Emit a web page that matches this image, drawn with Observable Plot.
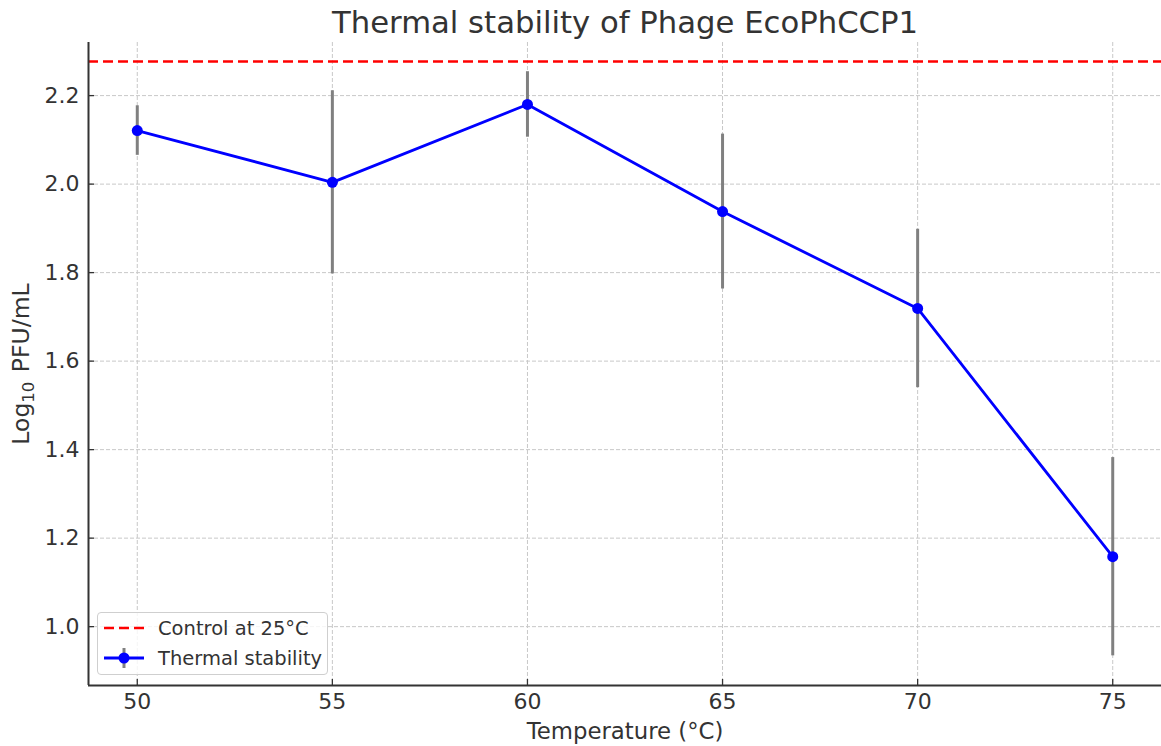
<!DOCTYPE html>
<html>
<head>
<meta charset="utf-8">
<script src="https://cdn.jsdelivr.net/npm/d3@7"></script>
<script src="https://cdn.jsdelivr.net/npm/@observablehq/plot@0.6"></script>
<style>
  body { margin: 0; background: #fff; font-family: "DejaVu Sans", sans-serif; }
  #chart { position: relative; width: 1161px; height: 746px; }
  .legend { position: absolute; left: 97px; top: 612px; width: 229px; height: 61px;
    border: 1px solid #cfcfcf; border-radius: 4px; background: rgba(255,255,255,0.8);
    font-family: "DejaVu Sans", sans-serif; font-size: 19.5px; color: #333; }
  .legend .row { position: absolute; left: 6px; height: 30px; display: flex; align-items: center; }
  .legend .row span { margin-left: 14px; }
</style>
</head>
<body>
<div id="chart"></div>
<script>
const temperatures = [50, 55, 60, 65, 70, 75];
const meanLog = [2.121, 2.004, 2.180, 1.938, 1.719, 1.158];
const errLog = [0.056, 0.207, 0.074, 0.175, 0.179, 0.224];
const controlLog = [2.277];
const xTicks = [50, 55, 60, 65, 70, 75];
const yTicks = [1.0, 1.2, 1.4, 1.6, 1.8, 2.0, 2.2];
const xDomain = [48.75, 76.25];
const yDomain = [0.867, 2.32];
const titleText = ["Thermal stability of Phage EcoPhCCP1"];
const xLabel = ["Temperature (°C)"];
const yLabelParts = ["Log", "10", " PFU/mL"];
const yLabel = [yLabelParts.join("")];
const legendLabels = ["Control at 25°C", "Thermal stability"];

const data = temperatures.map((t, i) => ({
  t, m: meanLog[i], lo: meanLog[i] - errLog[i], hi: meanLog[i] + errLog[i]
}));

const ink = "#333";
const gridStyle = { stroke: "#c8c8c8", strokeOpacity: 1, strokeWidth: 1, strokeDasharray: "4,2" };

const plot = Plot.plot({
  width: 1161,
  height: 746,
  marginLeft: 88,
  marginRight: 0,
  marginTop: 42,
  marginBottom: 61,
  style: { fontFamily: "DejaVu Sans", background: "white", color: ink, overflow: "visible" },
  x: { domain: xDomain },
  y: { domain: yDomain },
  marks: [
    Plot.gridX(xTicks, gridStyle),
    Plot.gridY(yTicks, gridStyle),
    Plot.ruleY(controlLog, { stroke: "red", strokeWidth: 2.6, strokeDasharray: "10,5" }),
    Plot.ruleX(data, { x: "t", y1: "lo", y2: "hi", stroke: "gray", strokeWidth: 3 }),
    Plot.line(data, { x: "t", y: "m", stroke: "blue", strokeWidth: 2.8 }),
    Plot.dot(data, { x: "t", y: "m", r: 5.5, fill: "blue", stroke: "none" }),
    Plot.ruleX([xDomain[0]], { stroke: ink, strokeWidth: 2 }),
    Plot.ruleY([yDomain[0]], { stroke: ink, strokeWidth: 2 }),
    Plot.axisX(xTicks, { tickSize: 6, tickFormat: () => "", dy: -6, label: null, stroke: ink, strokeWidth: 1.3 }),
    Plot.axisY(yTicks, { tickSize: 6, tickFormat: () => "", dx: 6, label: null, stroke: ink, strokeWidth: 1.3 }),
    Plot.axisX(xTicks, { tickSize: 0, tickPadding: 8, fontSize: 22, fill: ink, label: null }),
    Plot.axisY(yTicks, { tickSize: 0, tickPadding: 9, fontSize: 22, fill: ink, label: null, tickFormat: d => d.toFixed(1) }),
    Plot.text(titleText, { frameAnchor: "top", textAnchor: "middle", lineAnchor: "bottom", dy: -10, fontSize: 30.7, fill: ink }),
    Plot.text(xLabel, { frameAnchor: "bottom", textAnchor: "middle", lineAnchor: "bottom", dy: 53, fontSize: 22.8, fill: ink }),
    Plot.text(yLabel, { frameAnchor: "left", textAnchor: "middle", rotate: -90, lineAnchor: "bottom", dx: -59.5, fontSize: 23.5, fill: ink })
  ]
});

const chart = document.getElementById("chart");
chart.appendChild(plot);

// render the "10" of the y label as a real subscript (mathtext-like)
d3.select(plot).selectAll("text").filter(function () { return this.textContent === yLabel[0]; })
  .each(function () {
    const t = d3.select(this);
    t.text(null);
    t.append("tspan").text(yLabelParts[0]);
    t.append("tspan").attr("dy", 5).attr("font-size", 16.5).text(yLabelParts[1]);
    t.append("tspan").attr("dy", -5).attr("dx", 2).text(yLabelParts[2]);
  });

const legend = document.createElement("div");
legend.className = "legend";
legend.innerHTML = `
  <div class="row" style="top:0px">
    <svg width="40" height="30"><line x1="0" x2="40" y1="15" y2="15" stroke="red" stroke-width="2.6" stroke-dasharray="10,5"/></svg>
    <span>${legendLabels[0]}</span>
  </div>
  <div class="row" style="top:30px">
    <svg width="40" height="30"><line x1="20" x2="20" y1="5" y2="25" stroke="gray" stroke-width="3"/><line x1="0" x2="40" y1="15" y2="15" stroke="blue" stroke-width="2.8"/><circle cx="20" cy="15" r="5.5" fill="blue"/></svg>
    <span>${legendLabels[1]}</span>
  </div>`;
chart.appendChild(legend);
</script>
</body>
</html>
